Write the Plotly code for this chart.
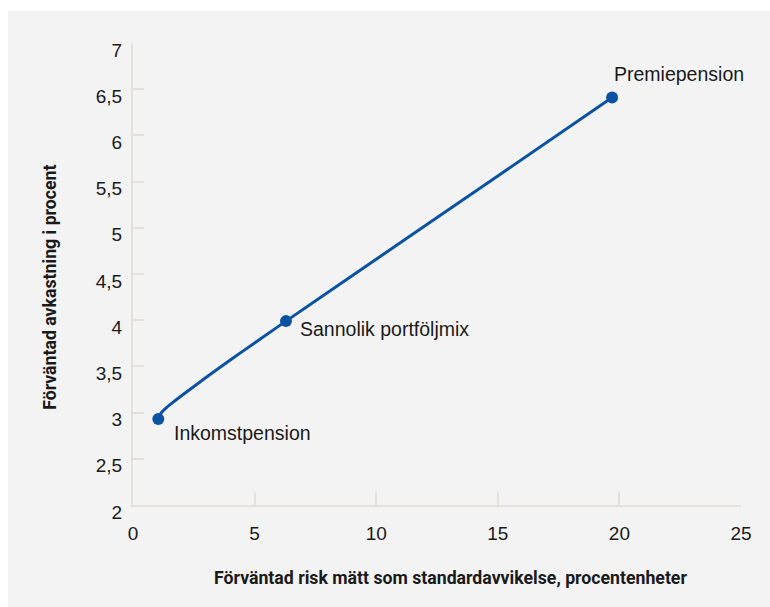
import plotly.graph_objects as go

# Efficient frontier: expected risk (std dev, %-points) vs expected return (%)
risk = [1.04, 1.1, 1.2, 1.4, 1.7, 2.2, 3.0, 4.0, 5.0, 6.29, 10.0, 15.0, 19.7]
ret = [2.93, 2.975, 3.01, 3.06, 3.123, 3.223, 3.379, 3.569, 3.754, 3.99, 4.66, 5.56, 6.41]

# Named portfolios on the frontier
point_names = ["Inkomstpension", "Sannolik portföljmix", "Premiepension"]
point_risk = [1.04, 6.29, 19.7]
point_ret = [2.93, 3.99, 6.41]

x_ticks = [0, 5, 10, 15, 20, 25]
y_ticks = [2, 2.5, 3, 3.5, 4, 4.5, 5, 5.5, 6, 6.5, 7]
y_tick_text = ["2", "2,5", "3", "3,5", "4", "4,5", "5", "5,5", "6", "6,5", "7"]

BLUE = "#0b53a2"
AXIS = "#e3e0db"
TEXT = "#1a1a1a"
PANEL = "#f3f3f3"
REG = "Liberation Sans, Arial, sans-serif"
BOLD = "Roboto, Liberation Sans, sans-serif"

fig = go.Figure()
fig.add_trace(go.Scatter(
    x=risk, y=ret, mode="lines",
    line=dict(color=BLUE, width=3, shape="spline", smoothing=0.8),
    hoverinfo="skip", showlegend=False,
))
fig.add_trace(go.Scatter(
    x=point_risk, y=point_ret, mode="markers",
    marker=dict(color=BLUE, size=12),
    text=point_names, showlegend=False,
))

# label offsets (pixels) relative to each point
offsets = {"Inkomstpension": (14, -14), "Sannolik portföljmix": (12, -8), "Premiepension": (0, 24)}
for name, xv, yv in zip(point_names, point_risk, point_ret):
    dx, dy = offsets[name]
    fig.add_annotation(x=xv, y=yv, text=name, showarrow=False, xanchor="left",
                       yanchor="middle", xshift=dx, yshift=dy,
                       font=dict(family=REG, size=19.5, color=TEXT))

# axis titles
fig.add_annotation(xref="paper", yref="paper", x=0.523, y=-0.158,
                   text="<b>Förväntad risk mätt som standardavvikelse, procentenheter</b>",
                   showarrow=False, xanchor="center", yanchor="middle",
                   font=dict(family=BOLD, size=17.7, color=TEXT))
fig.add_annotation(xref="paper", yref="paper", x=-0.1365, y=0.47,
                   text="<b>Förväntad avkastning i procent</b>", textangle=-90,
                   showarrow=False, xanchor="center", yanchor="middle",
                   font=dict(family=BOLD, size=17.7, color=TEXT))

# grey background panel
fig.add_shape(type="rect", xref="paper", yref="paper", x0=-0.2056, x1=1.06,
              y0=-0.23, y1=1.0693, fillcolor=PANEL, line=dict(width=0), layer="below")

fig.update_xaxes(range=[0, 25], tickvals=x_ticks, ticks="inside", ticklen=13,
                 tickwidth=2, tickcolor=AXIS, showline=True, linecolor=AXIS,
                 linewidth=2, showgrid=False, zeroline=False,
                 tickfont=dict(family=REG, size=19, color=TEXT), ticklabelstandoff=10)
fig.update_yaxes(range=[2, 7], tickvals=y_ticks, ticktext=y_tick_text, ticks="inside",
                 ticklen=11, tickwidth=2, tickcolor=AXIS, showline=True, linecolor=AXIS,
                 linewidth=2, showgrid=False, zeroline=False,
                 tickfont=dict(family=REG, size=19, color=TEXT),
                 ticklabelstandoff=5, ticklabelshift=7)

fig.update_layout(
    width=770, height=607,
    margin=dict(l=133, r=29, t=43, b=102),
    paper_bgcolor="white", plot_bgcolor="rgba(0,0,0,0)",
)

fig.write_html("out.html")
